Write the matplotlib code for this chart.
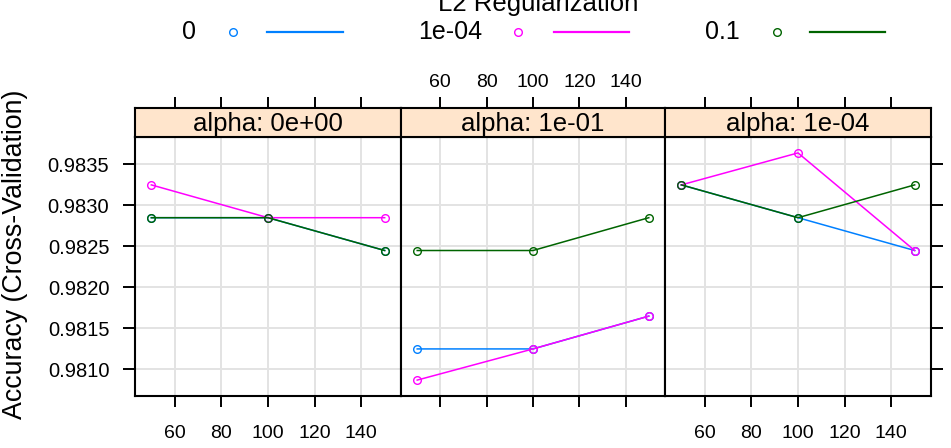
import numpy as np
import matplotlib.pyplot as plt
from matplotlib.lines import Line2D

plt.rcParams['font.family'] = ['Liberation Sans', 'DejaVu Sans']

# hidden units (x axis)
units = [50, 100, 150]

# panel titles (alpha) and legend groups (L2 regularization)
alphas = ['0e+00', '1e-01', '1e-04']
l2_levels = ['0', '1e-04', '0.1']
colors = ['#0080ff', '#ff00ff', '#006400']

# accuracy per panel, one list per L2 level (same order as l2_levels)
acc_alpha_0 = [
    [0.98285, 0.98285, 0.98245],
    [0.98325, 0.98285, 0.98285],
    [0.98285, 0.98285, 0.98245],
]
acc_alpha_1e01 = [
    [0.98125, 0.98125, 0.98165],
    [0.98087, 0.98125, 0.98165],
    [0.98245, 0.98245, 0.98285],
]
acc_alpha_1e04 = [
    [0.98325, 0.98285, 0.98245],
    [0.98325, 0.98364, 0.98245],
    [0.98325, 0.98285, 0.98325],
]
panels = [acc_alpha_0, acc_alpha_1e01, acc_alpha_1e04]

xticks = [60, 80, 100, 120, 140]
yticks = [0.9810, 0.9815, 0.9820, 0.9825, 0.9830, 0.9835]

W, H = 951, 448
fig = plt.figure(figsize=(W / 100, H / 100), dpi=100)

edges = [135, 401, 665, 931]
top_strip, top_panel, bottom = 108, 137, 396

# lattice-like 7% padding
allv = np.concatenate([np.ravel(p) for p in panels])
pad_y = (allv.max() - allv.min()) * 0.07
ylim = (allv.min() - pad_y, allv.max() + pad_y)
pad_x = (max(units) - min(units)) * 0.07
xlim = (min(units) - pad_x, max(units) + pad_x)

for i, (alpha, data) in enumerate(zip(alphas, panels)):
    x0, x1 = edges[i], edges[i + 1]
    ax = fig.add_axes([x0 / W, 1 - bottom / H, (x1 - x0) / W, (bottom - top_panel) / H])
    sax = fig.add_axes([x0 / W, 1 - top_panel / H, (x1 - x0) / W, (top_panel - top_strip) / H])

    for xt in xticks:
        ax.axvline(xt, color='#e3e3e3', lw=1.4, zorder=0)
    for yt in yticks:
        ax.axhline(yt, color='#e3e3e3', lw=1.4, zorder=0)

    for vals, c in zip(data, colors):
        ax.plot(units, vals, color=c, lw=1.1, marker='o', ms=5.5, mfc='none', mew=1.0, zorder=3)

    ax.set_xlim(xlim)
    ax.set_ylim(ylim)
    ax.set_xticks(xticks)
    ax.set_yticks(yticks)
    for s in ax.spines.values():
        s.set_linewidth(1.5)

    ax.tick_params(axis='x', direction='out', length=8, width=1.4, labelsize=14, pad=13,
                   labelbottom=(i != 1))
    ax.tick_params(axis='y', direction='out', length=8.5, width=1.4, labelsize=14.5, pad=10,
                   left=(i == 0), labelleft=(i == 0), right=(i == 2), labelright=False)
    if i == 0:
        ax.set_yticklabels(['%.4f' % v for v in yticks])

    sax.set_facecolor('#ffe5cc')
    sax.set_xlim(xlim)
    sax.set_ylim(0, 1)
    sax.set_xticks(xticks)
    sax.set_yticks([])
    sax.tick_params(axis='x', direction='out', length=8, width=1.4, labelsize=14, pad=4,
                    bottom=False, labelbottom=False, top=True, labeltop=(i == 1))
    for s in sax.spines.values():
        s.set_linewidth(1.5)
    sax.text(0.5, 0.45, 'alpha: ' + alpha, transform=sax.transAxes, ha='center',
             va='center', fontsize=18.5)

fig.text(15 / W, 1 - 254 / H, 'Accuracy (Cross-Validation)', rotation=90,
         ha='center', va='center', fontsize=19.3)

# legend on top
fig.text(538 / W, 1 - 11 / H, 'L2 Regularization', ha='center', va='baseline', fontsize=18.5)
leg_y = 1 - 32 / H
label_x = [189, 450, 722]
mark_x = [233, 518, 777]
line_x = [(267, 343), (554, 629), (810, 885)]
for lab, c, lx, mx, (a, b) in zip(l2_levels, colors, label_x, mark_x, line_x):
    fig.text(lx / W, leg_y, lab, ha='center', va='center', fontsize=18)
    fig.add_artist(Line2D([mx / W], [leg_y], marker='o', ms=5.5, mfc='none', mec=c,
                          mew=1.0, ls='none', transform=fig.transFigure))
    fig.add_artist(Line2D([a / W, b / W], [leg_y, leg_y], color=c, lw=1.6,
                          transform=fig.transFigure))

fig.savefig('out.png', dpi=100)
